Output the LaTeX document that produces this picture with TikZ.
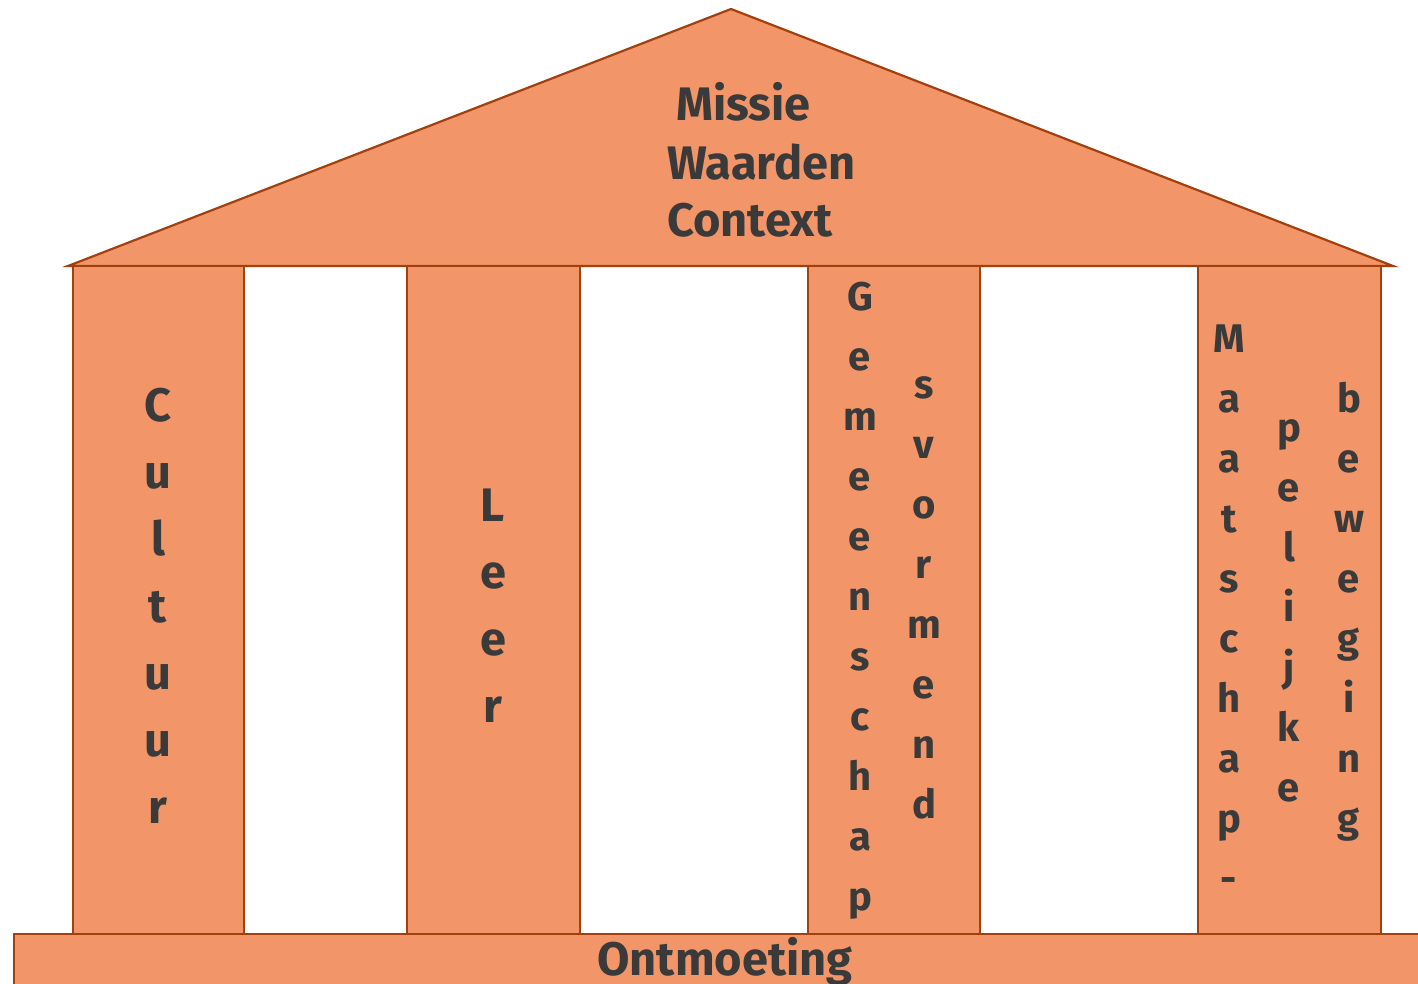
\documentclass[tikz,border=0pt]{standalone}
\usepackage{fontspec}
\setmainfont{Fira Sans}
\definecolor{templeFill}{HTML}{F29669}
\definecolor{templeLine}{HTML}{A3410E}
\definecolor{letterGray}{HTML}{3A3A3A}

\begin{document}
\begin{tikzpicture}[x=1pt,y=1pt,yscale=-1,xscale=1,
  block/.style={fill=templeFill,draw=templeLine,line width=2.2pt,line join=miter},
  roofword/.style={inner sep=0pt,text=letterGray,align=left,font=\fontsize{47}{58}\selectfont\bfseries},
  pillarword/.style={inner sep=0pt,text=letterGray,align=center,anchor=base,font=\fontsize{47}{67}\selectfont\bfseries},
  slimword/.style={pillarword,font=\fontsize{40}{60}\selectfont\bfseries}]
\clip (0,0) rectangle (1418,984);
\useasboundingbox (0,0) rectangle (1418,984);

% Roof
\draw [block] (68,266) -- (731,9) -- (1393,266) -- cycle ;
% Pillars
\draw [block] (73,266) rectangle (244,934) ;
\draw [block] (407,266) rectangle (580,934) ;
\draw [block] (808,266) rectangle (980,934) ;
\draw [block] (1198,266) rectangle (1381,934) ;
% Floor
\draw [block] (14,934) rectangle (1440,1010) ;

% Text Node
\node (roof) [roofword,anchor=base west] at (667,237) {\hspace*{9pt}Missie\\Waarden\\Context};
% Text Node
\node (cultuur) [pillarword] at (158,823) {C\\u\\l\\t\\u\\u\\r};
% Text Node
\node (leer) [pillarword] at (493,722) {L\\e\\e\\r};
% Text Node
\node (gemeenschap) [slimword] at (860,910) {G\\e\\m\\e\\e\\n\\s\\c\\h\\a\\p};
% Text Node
\node (vormend) [slimword] at (924,818) {s\\v\\o\\r\\m\\e\\n\\d};
% Text Node
\node (maatschap) [slimword] at (1229,892) {M\\a\\a\\t\\s\\c\\h\\a\\p\\-};
% Text Node
\node (pelijke) [slimword] at (1289,801) {p\\e\\l\\i\\j\\k\\e};
% Text Node
\node (beweging) [slimword] at (1349,832) {b\\e\\w\\e\\g\\i\\n\\g};
% Text Node
\node (ontmoeting) [roofword,anchor=base] at (725,975) {Ontmoeting};

\end{tikzpicture}
\end{document}
